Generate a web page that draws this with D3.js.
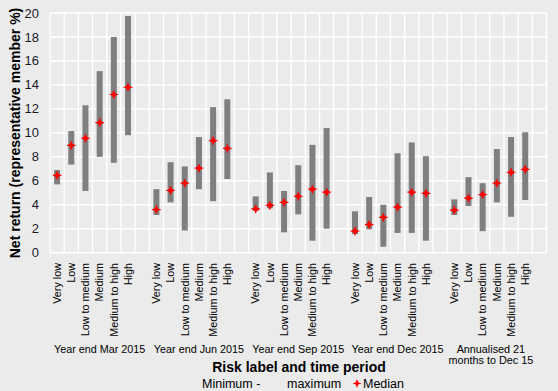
<!DOCTYPE html>
<html>
<head>
<meta charset="utf-8">
<script src="https://cdn.jsdelivr.net/npm/d3@7"></script>
<style>
  html, body { margin: 0; padding: 0; background: #EBEBEB; }
  svg { display: block; }
  text { font-family: "Liberation Sans", Arial, sans-serif; }
</style>
</head>
<body>
<svg id="chart" width="558" height="391"></svg>
<script>
// ---- data ----
const periods = ["Year end Mar 2015", "Year end Jun 2015", "Year end Sep 2015", "Year end Dec 2015", "Annualised 21 months to Dec 15"];
const riskLabels = ["Very low", "Low", "Low to medium", "Medium", "Medium to high", "High"];
const minMar = [5.7, 7.35, 5.15, 8.0, 7.5, 9.8];
const maxMar = [6.9, 10.15, 12.3, 15.15, 18.0, 19.75];
const medMar = [6.45, 8.95, 9.55, 10.85, 13.2, 13.8];
const minJun = [3.15, 4.2, 1.85, 5.3, 4.3, 6.15];
const maxJun = [5.3, 7.55, 7.2, 9.65, 12.15, 12.8];
const medJun = [3.6, 5.2, 5.8, 7.05, 9.35, 8.7];
const minSep = [3.5, 3.7, 1.7, 3.2, 1.0, 2.0];
const maxSep = [4.7, 6.7, 5.15, 7.3, 9.0, 10.4];
const medSep = [3.65, 3.95, 4.2, 4.7, 5.3, 5.05];
const minDec = [1.55, 1.95, 0.5, 1.65, 1.65, 1.0];
const maxDec = [3.45, 4.65, 4.0, 8.3, 9.2, 8.05];
const medDec = [1.8, 2.35, 2.95, 3.8, 5.05, 4.95];
const minAnn = [3.15, 3.9, 1.8, 4.2, 3.0, 4.4];
const maxAnn = [4.45, 6.3, 5.8, 8.65, 9.65, 10.05];
const medAnn = [3.55, 4.55, 4.85, 5.8, 6.7, 6.95];
const yTicks = [0, 2, 4, 6, 8, 10, 12, 14, 16, 18, 20];
const yTitle = "Net return (representative member %)";
const xTitle = "Risk label and time period";

const mins = [minMar, minJun, minSep, minDec, minAnn];
const maxs = [maxMar, maxJun, maxSep, maxDec, maxAnn];
const meds = [medMar, medJun, medSep, medDec, medAnn];

// build category list: 6 risk labels + 1 blank per period
const cats = [];
const rows = [];
periods.forEach((p, gi) => {
  riskLabels.forEach((r, ri) => {
    const key = gi + "_" + ri;
    cats.push(key);
    rows.push({ key, period: p, label: r, min: mins[gi][ri], max: maxs[gi][ri], med: meds[gi][ri] });
  });
  cats.push(gi + "_gap");
});

// ---- layout ----
const svg = d3.select("#chart");
const L = 50, R = 546.5, T = 13, B = 252.7;

const x = d3.scaleBand().domain(cats).range([L, R]).padding(0);
const y = d3.scaleLinear().domain([0, 20]).range([B, T]);

// panel
svg.append("rect").attr("x", L).attr("y", T).attr("width", R - L).attr("height", B - T).attr("fill", "#EBEBEB");

// horizontal grid
svg.append("g").selectAll("line").data(yTicks).join("line")
  .attr("x1", L).attr("x2", R)
  .attr("y1", d => y(d)).attr("y2", d => y(d))
  .attr("stroke", "#fff").attr("stroke-width", 1.4);

// vertical grid at category boundaries
const bounds = cats.map(c => x(c)).concat([R]);
svg.append("g").selectAll("line").data(bounds).join("line")
  .attr("x1", d => d).attr("x2", d => d)
  .attr("y1", T).attr("y2", B)
  .attr("stroke", "#fff").attr("stroke-width", 1.4);

// y tick labels
svg.append("g").selectAll("text").data(yTicks).join("text")
  .attr("x", 39).attr("y", d => y(d)).attr("dy", "0.35em")
  .attr("text-anchor", "end").attr("font-size", 13).attr("fill", "#1a1a2a")
  .text(d => d);

// bars (min-max)
const bw = 6;
svg.append("g").selectAll("rect").data(rows).join("rect")
  .attr("x", d => x(d.key) + x.bandwidth() / 2 - bw / 2)
  .attr("width", bw)
  .attr("y", d => y(d.max))
  .attr("height", d => y(d.min) - y(d.max))
  .attr("fill", "#7F7F7F");

// median markers
function marker(g, cx, cy, s) {
  g.append("path")
    .attr("d", `M${cx},${cy - s}L${cx + s},${cy}L${cx},${cy + s}L${cx - s},${cy}Z`)
    .attr("fill", "#FF0000");
  g.append("path")
    .attr("d", `M${cx - s - 1},${cy}H${cx + s + 1}M${cx},${cy - s - 1}V${cy + s + 1}`)
    .attr("stroke", "#FF0000").attr("stroke-width", 1.2);
}
const mg = svg.append("g");
rows.forEach(d => marker(mg, x(d.key) + x.bandwidth() / 2, y(d.med), 3.3));

// x tick labels (rotated)
svg.append("g").selectAll("text").data(rows).join("text")
  .attr("transform", d => `translate(${x(d.key) + x.bandwidth() / 2},263) rotate(-90)`)
  .attr("dy", "0.35em").attr("text-anchor", "end")
  .attr("font-size", 10.8).attr("fill", "#000")
  .text(d => d.label);

// period labels
const pg = svg.append("g");
periods.forEach((p, gi) => {
  const start = x(gi + "_0");
  const end = x(gi + "_gap") + x.bandwidth();
  const cx = (start + end) / 2;
  let lines = [p];
  if (p.startsWith("Annualised")) lines = ["Annualised 21", "months to Dec 15"];
  lines.forEach((ln, li) => {
    pg.append("text").attr("x", gi === 4 ? cx - 6 : cx).attr("y", 352.5 + li * 11.5)
      .attr("text-anchor", "middle").attr("font-size", 10.8).attr("fill", "#000")
      .text(ln);
  });
});

// axis titles
svg.append("text").attr("x", 299).attr("y", 371.5).attr("text-anchor", "middle")
  .attr("font-size", 14).attr("font-weight", "bold").attr("fill", "#000").text(xTitle);
svg.append("text").attr("transform", `translate(20,133) rotate(-90)`).attr("text-anchor", "middle")
  .attr("font-size", 14).attr("font-weight", "bold").attr("fill", "#000").text(yTitle);

// legend
const lg = svg.append("g");
lg.append("text").attr("x", 202).attr("y", 388).attr("font-size", 12.5).attr("fill", "#000").text("Minimum -");
lg.append("text").attr("x", 287).attr("y", 388).attr("font-size", 12.5).attr("fill", "#000").text("maximum");
marker(lg, 357, 383.5, 2.8);
lg.append("text").attr("x", 363).attr("y", 388).attr("font-size", 12.5).attr("fill", "#000").text("Median");
</script>
</body>
</html>
